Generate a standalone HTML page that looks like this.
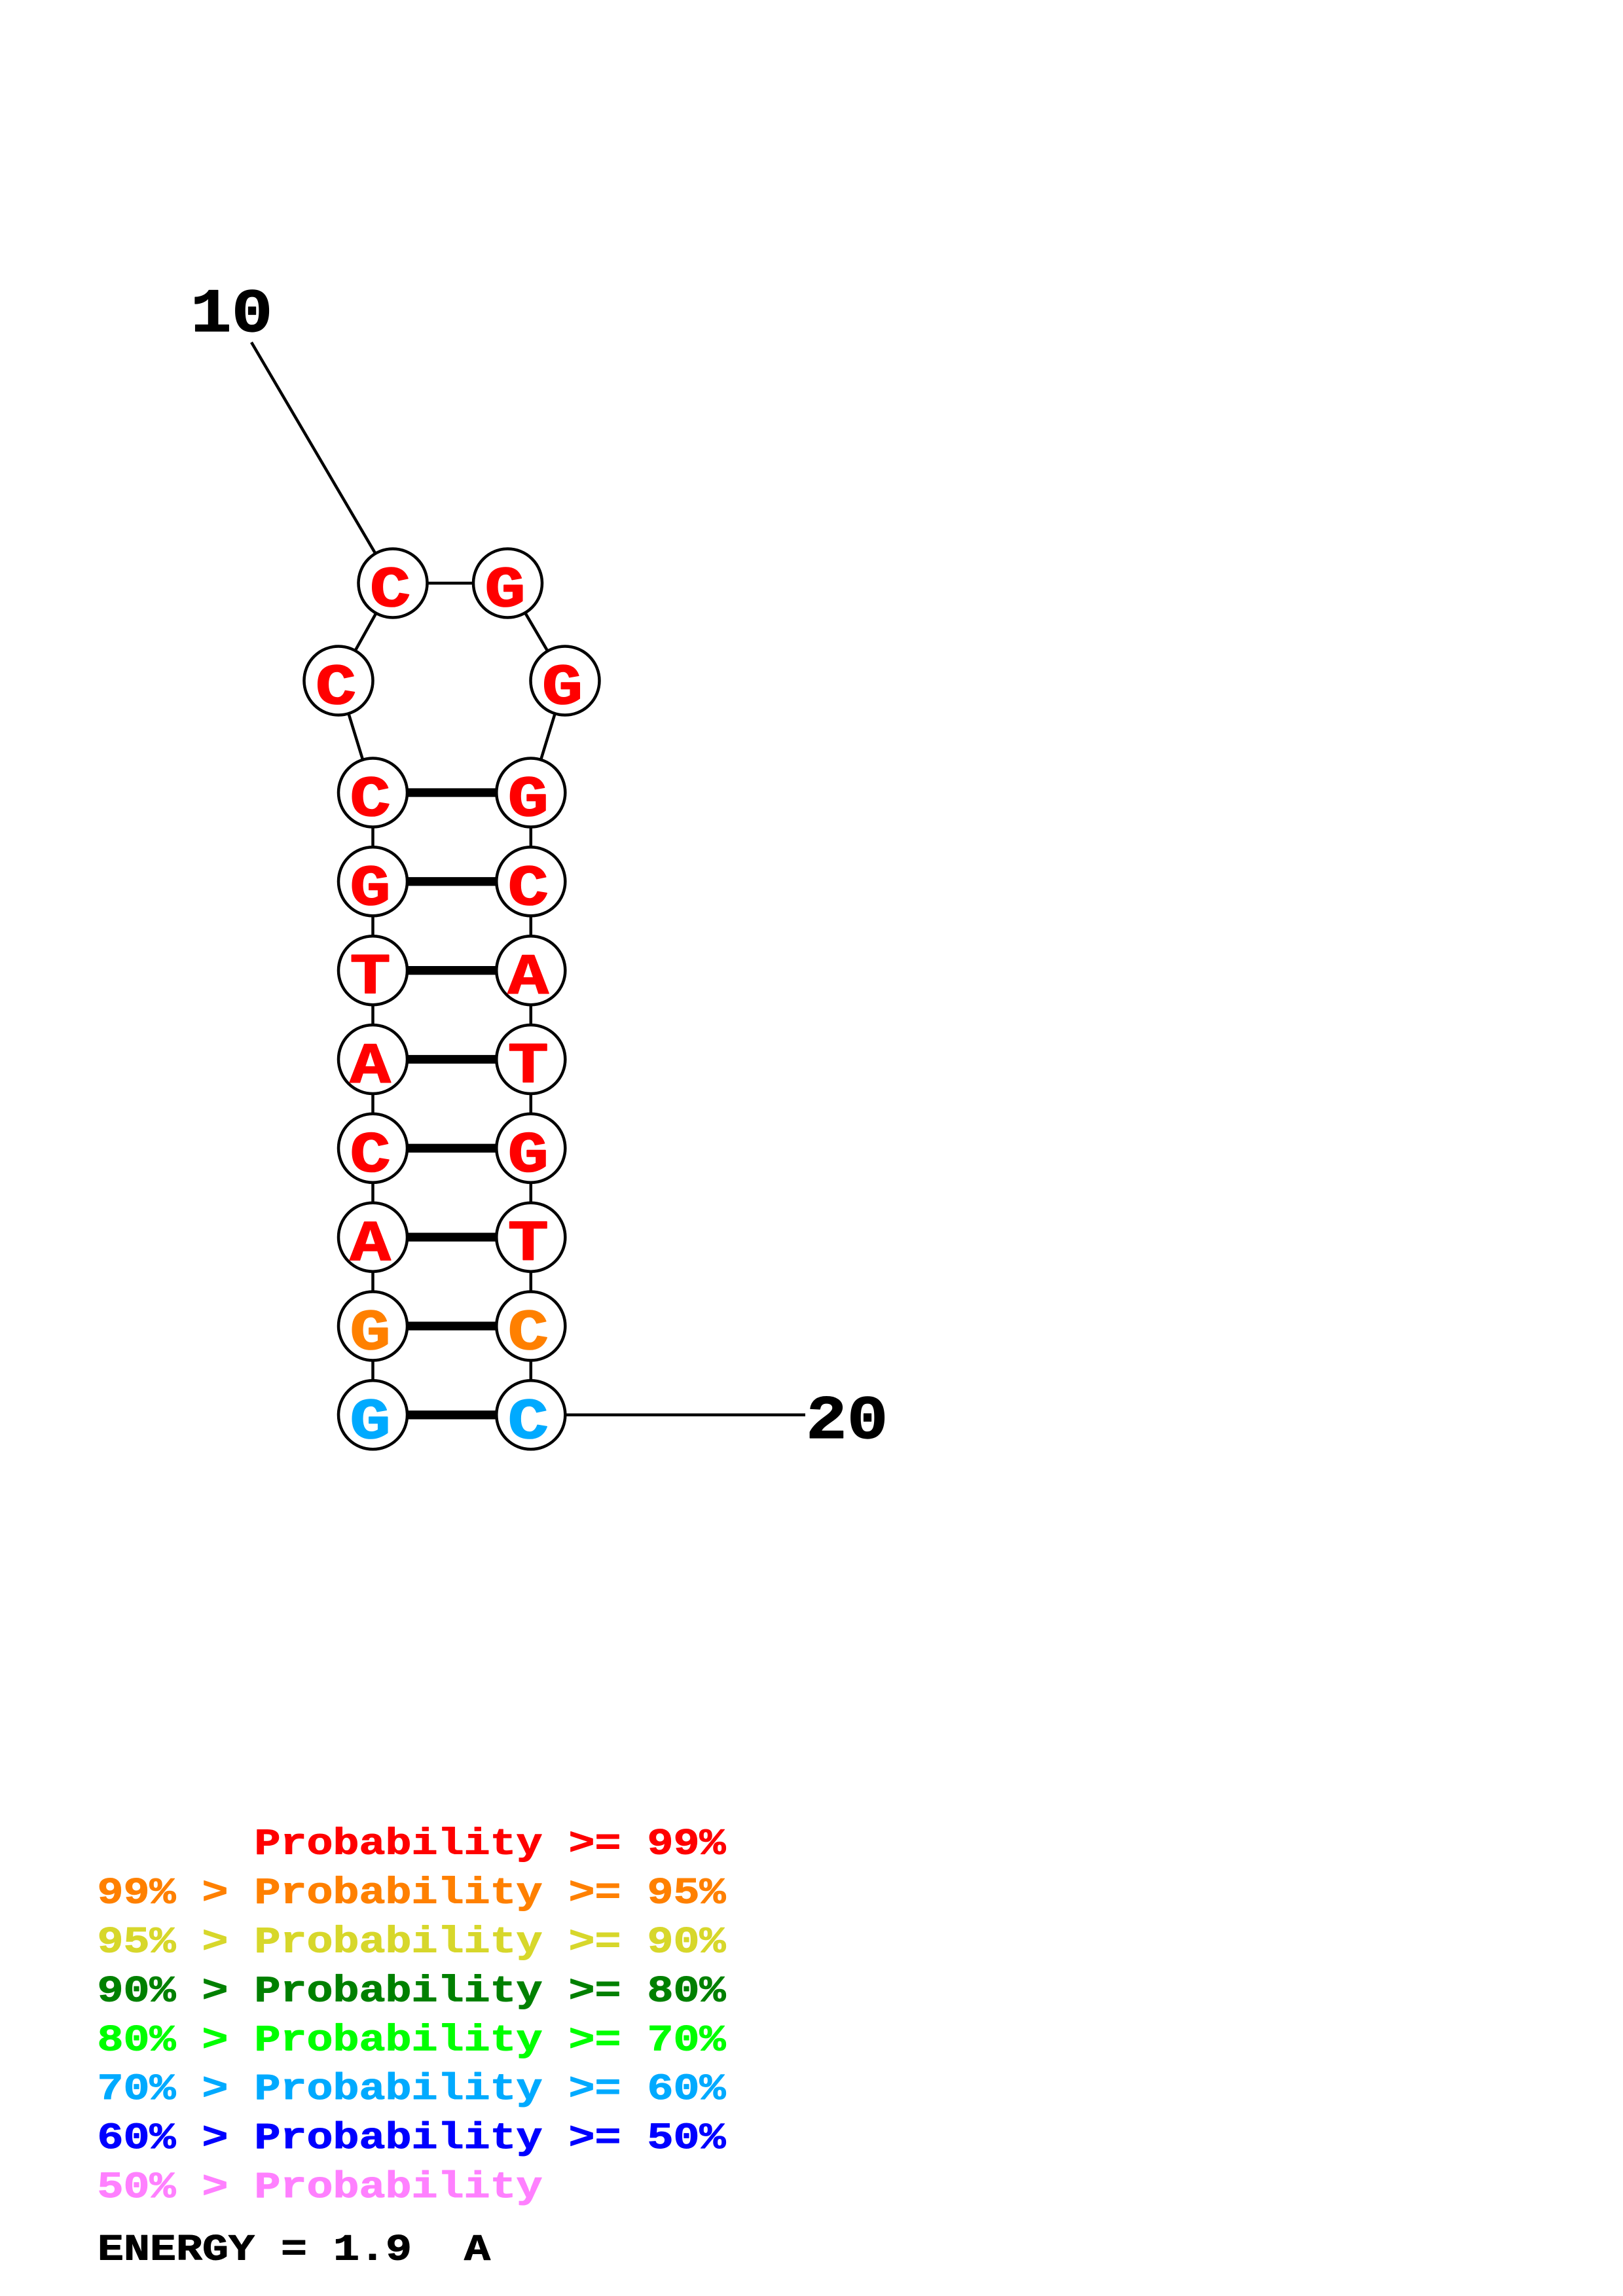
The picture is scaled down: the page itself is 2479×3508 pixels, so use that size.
<!DOCTYPE html>
<html><head><meta charset="utf-8"><style>
html,body{margin:0;padding:0;background:#fff;}
svg{display:block;}
text{font-family:"Liberation Mono",monospace;font-weight:bold;white-space:pre;stroke-linejoin:round;}
.n{font-size:88px;text-anchor:middle;stroke-width:1.6px;}
.l{font-size:56.5px;stroke-width:1px;}
.big{font-size:95px;fill:#000;stroke:#000;stroke-width:1.2px;}
</style></head><body>
<svg xmlns="http://www.w3.org/2000/svg" width="2479" height="3508" viewBox="0 0 2479 3508">
<rect width="2479" height="3508" fill="#fff"/>
<g stroke="#000" stroke-width="4.5" fill="none">
<line x1="384" y1="523" x2="600" y2="891"/>
<polyline points="569.5,1211 517,1040 600,891 775.5,891 863,1040 810.8,1211"/>
<line x1="569.5" y1="1211" x2="569.5" y2="2162"/>
<line x1="810.8" y1="1211" x2="810.8" y2="2162"/>
<line x1="810.8" y1="2161.8" x2="1230" y2="2161.8"/>
</g>
<g stroke="#000" stroke-width="13.3">
<line x1="569.5" y1="1211" x2="810.8" y2="1211"/>
<line x1="569.5" y1="1346.8" x2="810.8" y2="1346.8"/>
<line x1="569.5" y1="1482.7" x2="810.8" y2="1482.7"/>
<line x1="569.5" y1="1618.5" x2="810.8" y2="1618.5"/>
<line x1="569.5" y1="1754.3" x2="810.8" y2="1754.3"/>
<line x1="569.5" y1="1890.2" x2="810.8" y2="1890.2"/>
<line x1="569.5" y1="2026" x2="810.8" y2="2026"/>
<line x1="569.5" y1="2161.8" x2="810.8" y2="2161.8"/>
</g>
<g fill="#fff" stroke="#000" stroke-width="4.5">
<circle cx="600" cy="891" r="52.5"/><circle cx="775.5" cy="891" r="52.5"/>
<circle cx="517" cy="1040" r="52.5"/><circle cx="863" cy="1040" r="52.5"/>
<circle cx="569.5" cy="1211" r="52.5"/><circle cx="810.8" cy="1211" r="52.5"/>
<circle cx="569.5" cy="1346.8" r="52.5"/><circle cx="810.8" cy="1346.8" r="52.5"/>
<circle cx="569.5" cy="1482.7" r="52.5"/><circle cx="810.8" cy="1482.7" r="52.5"/>
<circle cx="569.5" cy="1618.5" r="52.5"/><circle cx="810.8" cy="1618.5" r="52.5"/>
<circle cx="569.5" cy="1754.3" r="52.5"/><circle cx="810.8" cy="1754.3" r="52.5"/>
<circle cx="569.5" cy="1890.2" r="52.5"/><circle cx="810.8" cy="1890.2" r="52.5"/>
<circle cx="569.5" cy="2026" r="52.5"/><circle cx="810.8" cy="2026" r="52.5"/>
<circle cx="569.5" cy="2161.8" r="52.5"/><circle cx="810.8" cy="2161.8" r="52.5"/>
</g>
<g fill="#f00" stroke="#f00">
<text class="n" transform="translate(596 926) scale(1.18 1)">C</text><text class="n" transform="translate(771.5 926) scale(1.18 1)">G</text>
<text class="n" transform="translate(513 1075) scale(1.18 1)">C</text><text class="n" transform="translate(859 1075) scale(1.18 1)">G</text>
<text class="n" transform="translate(565.5 1246) scale(1.18 1)">C</text><text class="n" transform="translate(806.8 1246) scale(1.18 1)">G</text>
<text class="n" transform="translate(565.5 1381.8) scale(1.18 1)">G</text><text class="n" transform="translate(806.8 1381.8) scale(1.18 1)">C</text>
<text class="n" transform="translate(565.5 1517.7) scale(1.18 1)">T</text><text class="n" transform="translate(806.8 1517.7) scale(1.18 1)">A</text>
<text class="n" transform="translate(565.5 1653.5) scale(1.18 1)">A</text><text class="n" transform="translate(806.8 1653.5) scale(1.18 1)">T</text>
<text class="n" transform="translate(565.5 1789.3) scale(1.18 1)">C</text><text class="n" transform="translate(806.8 1789.3) scale(1.18 1)">G</text>
<text class="n" transform="translate(565.5 1925.2) scale(1.18 1)">A</text><text class="n" transform="translate(806.8 1925.2) scale(1.18 1)">T</text>
</g>
<g fill="#ff8000" stroke="#ff8000">
<text class="n" transform="translate(565.5 2061) scale(1.18 1)">G</text><text class="n" transform="translate(806.8 2061) scale(1.18 1)">C</text>
</g>
<g fill="#00aaff" stroke="#00aaff">
<text class="n" transform="translate(565.5 2196.8) scale(1.18 1)">G</text><text class="n" transform="translate(806.8 2196.8) scale(1.18 1)">C</text>
</g>
<text class="big" transform="translate(291 506) scale(1.1 1)">10</text>
<text class="big" transform="translate(1231 2197) scale(1.1 1)">20</text>
<g class="lg">
<text class="l" transform="translate(148.5 2832.7) scale(1.18 1)" fill="#f00" stroke="#f00">      Probability &gt;= 99%</text>
<text class="l" transform="translate(148.5 2907.6) scale(1.18 1)" fill="#ff8000" stroke="#ff8000">99% &gt; Probability &gt;= 95%</text>
<text class="l" transform="translate(148.5 2982.5) scale(1.18 1)" fill="#d7d72b" stroke="#d7d72b">95% &gt; Probability &gt;= 90%</text>
<text class="l" transform="translate(148.5 3057.4) scale(1.18 1)" fill="#008000" stroke="#008000">90% &gt; Probability &gt;= 80%</text>
<text class="l" transform="translate(148.5 3132.3) scale(1.18 1)" fill="#00ff00" stroke="#00ff00">80% &gt; Probability &gt;= 70%</text>
<text class="l" transform="translate(148.5 3207.2) scale(1.18 1)" fill="#00aaff" stroke="#00aaff">70% &gt; Probability &gt;= 60%</text>
<text class="l" transform="translate(148.5 3282.1) scale(1.18 1)" fill="#0000ff" stroke="#0000ff">60% &gt; Probability &gt;= 50%</text>
<text class="l" transform="translate(148.5 3357) scale(1.18 1)" fill="#ff80ff" stroke="#ff80ff">50% &gt; Probability</text>
<text class="l" transform="translate(149 3452.7) scale(1.18 1)" fill="#000" stroke="#000">ENERGY = 1.9  A</text>
</g>
</svg>
</body></html>
